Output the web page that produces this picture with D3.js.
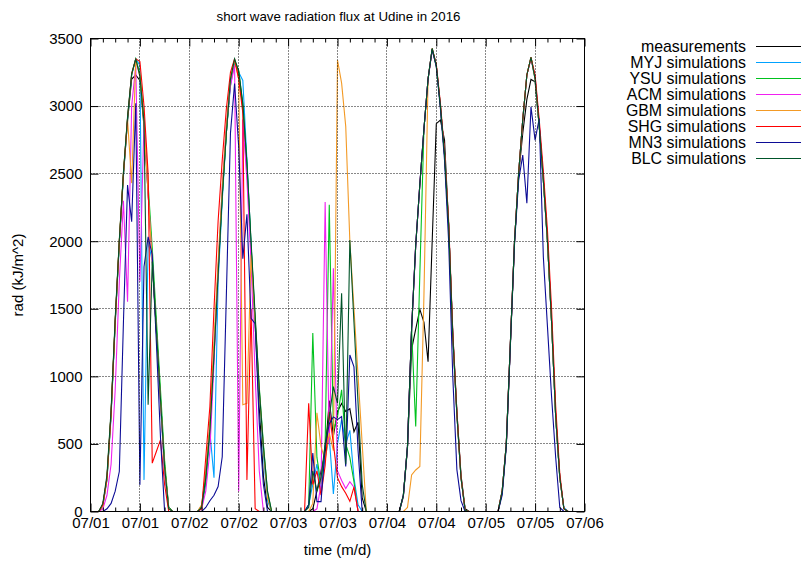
<!DOCTYPE html>
<html><head><meta charset="utf-8">
<script src="https://cdn.jsdelivr.net/npm/d3@7"></script>
<style>
body{margin:0;background:#fff}
svg{display:block}
text{font-family:"Liberation Sans",Arial,Helvetica,sans-serif;fill:#000}
</style>
</head><body>
<svg id="chart" width="802" height="561"></svg>
<script>
// ---------------- data ----------------
const title = "short wave radiation flux at Udine in 2016";
const xLabel = "time (m/d)";
const yLabel = "rad (kJ/m^2)";
const startUTC = Date.UTC(2016, 6, 1, 0);          // 07/01 00:00, hourly samples
const xTickHours = [0, 12, 24, 36, 48, 60, 72, 84, 96, 108, 120];
const xTickLabels = ["07/01","07/01","07/02","07/02","07/03","07/03","07/04","07/04","07/05","07/05","07/06"];
const xMinorStepHours = 3;
const yTicks = [0, 500, 1000, 1500, 2000, 2500, 3000, 3500];
const seriesNames = ["measurements","MYJ simulations","YSU simulations","ACM simulations","GBM simulations","SHG simulations","MN3 simulations","BLC simulations"];
const seriesColors = ["#000000","#00a2ff","#00c21e","#f020f0","#f39a25","#ff0000","#0c0c96","#00552a"];

const measurements = [
  0,0,0,50,240,720,1400,1990,2490,2890,3200,3230,3190,2850,2350,1870,1340,830,330,30,0,0,0,0,
  0,0,0,40,280,620,1180,1790,2340,2810,3180,3330,3240,2990,2540,1950,1380,770,260,30,0,0,0,0,
  0,0,0,0,0,0,20,150,300,430,820,560,740,800,740,760,590,660,100,0,0,0,0,0,
  0,0,0,0,110,470,1200,1350,1496,1400,1109,2000,2870,2896,2748,2120,1320,740,270,20,0,0,0,0,
  0,0,0,0,140,490,1240,1990,2490,2800,3050,3197,3180,2850,2450,2000,1400,700,250,20,0,0,0,0,
  0];
const myj = [
  0,0,0,40,230,700,1380,1980,2480,2900,3230,3350,3300,234,2000,1850,1330,800,300,20,0,0,0,0,
  0,0,0,30,200,591,250,1700,2300,2800,3150,3330,3250,3190,2600,1980,1400,880,420,80,0,0,0,0,
  0,0,0,0,0,50,200,350,150,400,550,130,500,680,500,600,250,50,0,0,0,0,0,0,
  0,0,0,0,120,480,1350,1970,2420,2830,3200,3420,3300,3000,2640,2120,1300,720,250,10,0,0,0,0,
  0,0,0,0,150,500,1250,2000,2500,2900,3230,3360,3200,2850,2450,2000,1400,700,250,30,0,0,0,0,
  0];
const ysu = [
  0,0,0,50,250,730,1410,2000,2500,2910,3230,3350,3240,2900,2420,1950,1420,900,380,30,0,0,0,0,
  0,0,0,30,220,600,1150,1780,2340,2800,3180,3340,3260,3010,2580,1980,1420,920,500,140,0,0,0,0,
  0,0,0,0,0,50,1320,400,200,500,2270,600,700,900,500,400,220,0,0,0,0,0,0,0,
  0,0,0,0,120,480,1350,629,1760,2830,3200,3426,3300,3000,2640,2120,1300,720,250,10,0,0,0,0,
  0,0,0,0,150,500,1250,2000,2500,2900,3230,3360,3210,2860,2460,2010,1410,710,250,20,0,0,0,0,
  0];
const acm = [
  0,0,0,20,120,350,900,1700,2300,1553,3000,3300,1700,2900,2350,1850,1330,800,300,20,0,0,0,0,
  0,0,0,20,150,450,1100,1790,2400,2850,3150,3300,148,2900,2450,1850,1000,300,0,0,0,0,0,0,
  0,0,0,0,0,0,0,20,200,2290,500,1800,300,230,170,220,180,0,0,0,0,0,0,0,
  0,0,0,0,120,480,1350,1970,2420,2830,3200,3410,3300,3000,2640,2120,1300,720,250,10,0,0,0,0,
  0,0,0,0,150,500,1250,2000,2500,2900,3230,3350,3220,2870,2470,2020,1420,720,250,20,0,0,0,0,
  0];
const gbm = [
  0,0,0,40,240,720,1400,2000,2500,2900,2430,3340,3220,2870,2350,1850,1330,820,330,20,0,0,0,0,
  0,0,0,50,300,650,1250,1850,2400,2850,3200,3340,3200,790,800,1900,1400,880,460,100,0,0,0,0,
  0,0,0,0,0,0,60,730,480,380,580,450,3340,3170,2850,2000,1500,1000,500,0,0,0,0,0,
  0,0,0,0,0,30,271,307,333,1600,3200,3420,3300,3000,2640,2120,1300,720,250,10,0,0,0,0,
  0,0,0,0,150,500,1250,2000,2500,2900,3230,3360,3200,2850,2450,2000,1400,700,250,20,0,0,0,0,
  0];
const shg = [
  0,0,0,50,250,730,1410,2000,2500,2910,3240,3350,3330,3000,2500,358,444,530,200,0,0,0,0,0,
  0,0,0,20,400,776,1500,2150,2600,2980,3250,3350,3200,2950,234,1500,20,0,0,0,0,0,0,0,
  0,0,0,0,0,801,200,300,120,340,735,500,250,184,135,75,180,0,0,0,0,0,0,0,
  0,0,0,0,120,480,1350,1970,2420,2830,3200,3426,3310,3020,2660,2150,1330,740,260,10,0,0,0,0,
  0,0,0,0,150,500,1250,2000,2500,2900,3230,3360,3230,2900,2520,2080,1500,780,280,20,0,0,0,0,
  0];
const mn3 = [
  0,0,0,0,20,60,150,296,1400,2415,2144,3020,197,1811,2033,1900,1250,550,0,0,0,0,0,0,
  0,0,0,0,30,80,120,185,405,1600,2800,3167,2700,1870,2200,1430,1390,650,200,0,0,0,0,0,
  0,0,0,0,0,50,432,73,73,480,650,700,680,702,333,1158,1070,450,0,0,0,0,0,0,
  0,0,0,0,120,480,1350,1970,2420,2830,3200,3420,3290,2980,2600,2000,1000,310,80,0,0,0,0,0,
  0,0,0,0,120,480,1230,1980,2450,2637,2282,2994,2748,2908,1885,1370,850,400,30,0,0,0,0,0,
  0];
const blc = [
  0,0,0,60,270,750,1430,2010,2510,2920,3240,3350,3220,2880,790,1850,1350,830,330,20,0,0,0,0,
  0,0,0,30,250,600,1150,1750,2330,2800,3200,3350,3260,3020,2580,2000,1450,900,480,150,0,0,0,0,
  0,0,0,0,0,30,300,150,250,500,700,924,800,1614,350,2009,1400,800,200,0,0,0,0,0,
  0,0,0,0,120,480,1350,1970,2420,2830,3200,3426,3300,3000,2640,2120,1300,720,250,10,0,0,0,0,
  0,0,0,0,150,500,1250,2000,2500,2900,3230,3360,3200,2850,2450,2000,1400,700,250,20,0,0,0,0,
  0];
const seriesValues = [measurements, myj, ysu, acm, gbm, shg, mn3, blc];

// ---------------- layout ----------------
const L = 90.5, R = 584.5, T = 38.5, B = 511.5;
const FS = 15;
const hourMs = 3600e3;
const toDate = h => new Date(startUTC + h * hourMs);

const svg = d3.select("#chart");
const x = d3.scaleUtc().domain([toDate(0), toDate(120)]).range([L, R]);
const y = d3.scaleLinear().domain([0, 3500]).range([B, T]);

svg.append("defs").append("clipPath").attr("id","plotclip")
  .append("rect").attr("x", L).attr("y", T).attr("width", R - L).attr("height", B - T);

// data lines
const line = d3.line().x(d => x(d[0])).y(d => y(d[1]));
const gLines = svg.append("g").attr("clip-path","url(#plotclip)");
seriesValues.forEach((vals, i) => {
  const pts = vals.map((v, k) => [toDate(k), v]);
  gLines.append("path").datum(pts)
    .attr("d", line).attr("fill","none")
    .attr("stroke", seriesColors[i]).attr("stroke-width", 1.1)
    .attr("stroke-linejoin","miter");
});

// grid (front)
const grid = svg.append("g").attr("stroke","#111").attr("stroke-width",1).attr("stroke-dasharray","1,2");
xTickHours.slice(1, -1).forEach(h => {
  const gx = Math.round(x(toDate(h)) - 0.5) + 0.5;
  grid.append("line").attr("x1", gx).attr("x2", gx).attr("y1", T).attr("y2", B);
});
yTicks.slice(1, -1).forEach(v => {
  const gy = Math.round(y(v) - 0.5) + 0.5;
  grid.append("line").attr("x1", L).attr("x2", R).attr("y1", gy).attr("y2", gy);
});

// axes with inward ticks
const tickDates = xTickHours.map(toDate);
const minorDates = d3.range(0, 121, xMinorStepHours).filter(h => h % 12 !== 0).map(toDate);
function styleAxis(g){ g.select(".domain").remove(); g.selectAll("line").attr("stroke","#000"); g.selectAll("text").attr("font-size", FS).attr("font-family", null); }

svg.append("g").attr("transform", `translate(0,${B})`)
  .call(d3.axisBottom(x).tickValues(tickDates).tickSize(-8).tickPadding(6)
    .tickFormat((d, i) => xTickLabels[i]))
  .call(styleAxis)
  .call(g => g.selectAll("text").attr("dy","0.71em").attr("y", 6));
svg.append("g").attr("transform", `translate(0,${B})`)
  .call(d3.axisBottom(x).tickValues(minorDates).tickSize(-4).tickFormat(""))
  .call(styleAxis);
svg.append("g").attr("transform", `translate(0,${T})`)
  .call(d3.axisTop(x).tickValues(tickDates).tickSize(-8).tickFormat(""))
  .call(styleAxis);
svg.append("g").attr("transform", `translate(0,${T})`)
  .call(d3.axisTop(x).tickValues(minorDates).tickSize(-4).tickFormat(""))
  .call(styleAxis);
svg.append("g").attr("transform", `translate(${L},0)`)
  .call(d3.axisLeft(y).tickValues(yTicks).tickSize(-8).tickPadding(8).tickFormat(d3.format("d")))
  .call(styleAxis)
  .call(g => g.selectAll("text").attr("x", -8));
svg.append("g").attr("transform", `translate(${R},0)`)
  .call(d3.axisRight(y).tickValues(yTicks).tickSize(-8).tickFormat(""))
  .call(styleAxis);

// border
svg.append("rect").attr("x", L).attr("y", T).attr("width", R - L).attr("height", B - T)
  .attr("fill","none").attr("stroke","#000").attr("stroke-width",1);

// titles
svg.append("text").attr("x", (L + R) / 2 + 1).attr("y", 21).attr("text-anchor","middle").attr("font-size", 13.3).text(title);
svg.append("text").attr("x", (L + R) / 2).attr("y", 555).attr("text-anchor","middle").attr("font-size", FS).text(xLabel);
svg.append("text").attr("transform", `translate(23,${(T + B) / 2}) rotate(-90)`).attr("text-anchor","middle").attr("font-size", FS).text(yLabel);

// legend
const leg = svg.append("g");
seriesNames.forEach((name, i) => {
  const yy = 46.5 + i * 16;
  leg.append("text").attr("x", 746).attr("y", yy).attr("dy","0.35em").attr("text-anchor","end").attr("font-size", 15.9).text(name);
  leg.append("line").attr("x1", 756).attr("x2", 801).attr("y1", yy).attr("y2", yy)
    .attr("stroke", seriesColors[i]).attr("stroke-width", 1.1);
});
</script>
</body></html>
